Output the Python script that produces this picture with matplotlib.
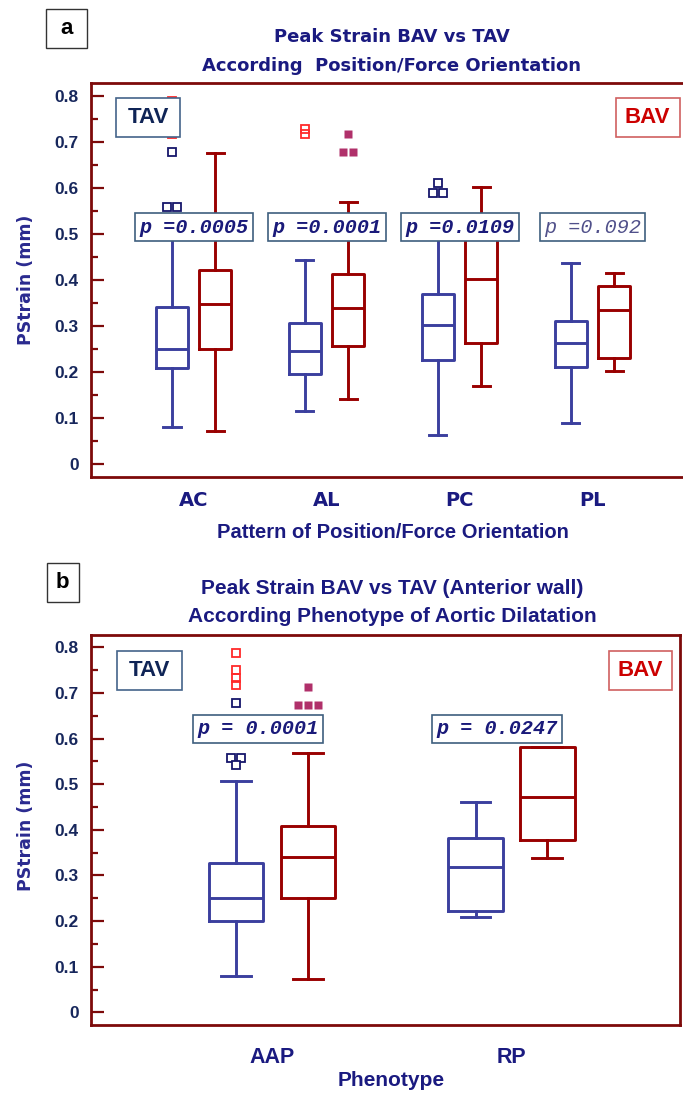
import numpy as np
import matplotlib
matplotlib.use('Agg')
import matplotlib.pyplot as plt
from collections import Counter
from matplotlib import font_manager
from matplotlib.patches import Rectangle
from matplotlib.ticker import MultipleLocator
from matplotlib.transforms import offset_copy

# ---- a: peak strain by position / force orientation ----
orient = ['AC', 'AL', 'PC', 'PL']
tav_a_lo = [0.081, 0.115, 0.063, 0.088]
tav_a_q1 = [0.208, 0.196, 0.225, 0.210]
tav_a_med = [0.250, 0.246, 0.302, 0.264]
tav_a_q3 = [0.342, 0.307, 0.369, 0.310]
tav_a_hi = [0.520, 0.443, 0.520, 0.437]
bav_a_lo = [0.071, 0.141, 0.170, 0.203]
bav_a_q1 = [0.250, 0.257, 0.264, 0.230]
bav_a_med = [0.348, 0.339, 0.402, 0.335]
bav_a_q3 = [0.421, 0.413, 0.500, 0.388]
bav_a_hi = [0.676, 0.570, 0.603, 0.416]
tav_a_far = [[0.789, 0.751, 0.732, 0.718], [0.728, 0.718], [], []]
tav_a_out = [[0.679, 0.559, 0.559], [], [0.611, 0.589, 0.589], []]
bav_a_out = [[], [0.718, 0.679, 0.679], [], []]
p_a = ['p =0.0005', 'p =0.0001', 'p =0.0109', 'p =0.092']

# ---- b: anterior wall, by phenotype of aortic dilatation ----
phenotype = ['AAP', 'RP']
tav_b_lo = [0.080, 0.210]
tav_b_q1 = [0.200, 0.221]
tav_b_med = [0.251, 0.319]
tav_b_q3 = [0.328, 0.383]
tav_b_hi = [0.508, 0.461]
bav_b_lo = [0.072, 0.339]
bav_b_q1 = [0.251, 0.378]
bav_b_med = [0.340, 0.471]
bav_b_q3 = [0.409, 0.581]
bav_b_hi = [0.568, 0.581]
tav_b_far = [[0.787, 0.751, 0.732, 0.718], []]
tav_b_out = [[0.679, 0.558, 0.558, 0.542], []]
bav_b_out = [[0.714, 0.674, 0.674, 0.674], []]
p_b = ['p = 0.0001', 'p = 0.0247']

TAV_C = '#3b3f9e'
BAV_C = '#990000'
SPINE_C = '#7d0a0a'
NAVY = '#1a1a80'
TICK_C = '#17275c'
OUT_NAVY = '#16166b'
OUT_RED = '#ff2a2a'
OUT_PURP = '#b0306a'
PBOX_EC = '#3e5f7e'

names = {f.name for f in font_manager.fontManager.ttflist}
NARROW = 'Liberation Sans Narrow' if 'Liberation Sans Narrow' in names else 'Liberation Sans'
LABEL_F = 'Liberation Sans'

W, H = 683, 1093
fig = plt.figure(figsize=(W / 100, H / 100), dpi=100)


def fx(x):
    return x / W


def fy(y):
    return 1 - y / H


def frame_box(x0, y0, x1, y1, ec, lw=1.2):
    fig.add_artist(Rectangle((fx(x0), fy(y1)), fx(x1) - fx(x0), fy(y0) - fy(y1),
                             transform=fig.transFigure, facecolor='white',
                             edgecolor=ec, lw=lw, zorder=2))


def draw_outliers(ax, groups, xpos, **style):
    # equal values sit side by side
    for x, vals in zip(xpos, groups):
        for v, n in Counter(vals).items():
            for k in range(n):
                tr = offset_copy(ax.transData, fig=fig, x=(k - (n - 1) / 2) * 7.2,
                                 y=0, units='points')
                ax.plot([x], [v], transform=tr, linestyle='none', zorder=3, **style)


def make_panel(rect, xlim, ylim, cats, tav, bav, off, width, capw, xfont, xsize, xpad):
    x0, y0, x1, y1 = rect
    ax = fig.add_axes([fx(x0), fy(y1), fx(x1) - fx(x0), fy(y0) - fy(y1)])
    idx = np.arange(len(cats))
    for (lo, q1, med, q3, hi), color, sign in ((tav, TAV_C, -1), (bav, BAV_C, 1)):
        stats = [dict(whislo=a, q1=b, med=c, q3=d, whishi=e)
                 for a, b, c, d, e in zip(lo, q1, med, q3, hi)]
        line = dict(color=color, linewidth=2.1)
        ax.bxp(stats, positions=idx + sign * off, widths=width, capwidths=capw,
               showfliers=False, boxprops=line, whiskerprops=line, capprops=line,
               medianprops=line, manage_ticks=False)
    ax.set_xlim(*xlim)
    ax.set_ylim(*ylim)
    for s in ax.spines.values():
        s.set_color(SPINE_C)
        s.set_linewidth(2)
    yt = np.arange(0, 0.81, 0.1)
    ax.set_yticks(yt)
    ax.set_yticklabels(['0' if t == 0 else f'{t:.1f}' for t in yt], family=LABEL_F,
                       weight='bold', fontsize=12.5, color=TICK_C)
    ax.yaxis.set_minor_locator(MultipleLocator(0.05))
    ax.tick_params(axis='y', which='major', direction='in', length=9.5, width=1.6,
                   color=SPINE_C, pad=9)
    ax.tick_params(axis='y', which='minor', direction='in', length=5, width=1.6,
                   color=SPINE_C)
    ax.set_xticks(idx)
    ax.set_xticklabels(cats, family=xfont, weight='bold', fontsize=xsize, color=NAVY)
    ax.tick_params(axis='x', length=0, pad=xpad)
    return ax, idx


def p_boxes(ax, xs, y, labels, size):
    for x, s in zip(xs, labels):
        strong = float(s.split('=')[1]) < 0.05
        ax.text(x, y, s, ha='center', va='center', family='Liberation Mono',
                style='italic', weight='bold' if strong else 'normal', fontsize=size,
                color='#1a1a7a' if strong else '#50508a', zorder=6,
                bbox=dict(boxstyle='square,pad=0.22', fc='white', ec=PBOX_EC, lw=1.2))


def group_labels(box_tav, box_bav):
    frame_box(*box_tav, ec='#44648a')
    frame_box(*box_bav, ec='#d06060')
    for (x0, y0, x1, y1), s, c in ((box_tav, 'TAV', '#0f2456'), (box_bav, 'BAV', '#cc0000')):
        fig.text(fx((x0 + x1) / 2), fy((y0 + y1) / 2), s, ha='center', va='center',
                 family=LABEL_F, weight='bold', fontsize=16, color=c, zorder=3)


def panel_letter(box, s):
    frame_box(*box, ec='#333333', lw=1.0)
    x0, y0, x1, y1 = box
    fig.text(fx((x0 + x1) / 2), fy((y0 + y1) / 2), s, ha='center', va='center',
             family='Liberation Sans', weight='bold', fontsize=16, color='black', zorder=3)


# ---------------- panel a ----------------
ax_a, ia = make_panel((91, 83, 690, 476.7), (-0.771, 3.733), (-0.028, 0.829), orient,
                      (tav_a_lo, tav_a_q1, tav_a_med, tav_a_q3, tav_a_hi),
                      (bav_a_lo, bav_a_q1, bav_a_med, bav_a_q3, bav_a_hi),
                      0.162, 0.24, 0.128, 'DejaVu Sans', 14, 10)
draw_outliers(ax_a, tav_a_far, ia - 0.162, marker='s', ms=6.3, mfc='none', mec=OUT_RED, mew=1.3)
draw_outliers(ax_a, tav_a_out, ia - 0.162, marker='s', ms=6.3, mfc='white', mec=OUT_NAVY, mew=1.3)
draw_outliers(ax_a, bav_a_out, ia + 0.162, marker='s', ms=6.3, mfc=OUT_PURP, mec='none')
p_boxes(ax_a, ia, 0.515, p_a, 14.5)
group_labels((115.7, 98.3, 180.3, 137.3), (615.7, 98.3, 679.7, 137.3))
panel_letter((45.7, 9, 87.3, 48), 'a')

fig.text(fx(392), fy(37.5), 'Peak Strain BAV vs TAV', ha='center', va='center',
         family='DejaVu Sans', weight='bold', fontsize=13, color=NAVY)
fig.text(fx(392), fy(66), 'According  Position/Force Orientation', ha='center', va='center',
         family='DejaVu Sans', weight='bold', fontsize=13, color=NAVY)
fig.text(fx(393), fy(532.5), 'Pattern of Position/Force Orientation', ha='center', va='center',
         family=NARROW, weight='bold', fontsize=14.5, color=NAVY)
fig.text(fx(26), fy(280), 'PStrain (mm)', rotation=90, ha='center', va='center',
         family='DejaVu Sans', weight='bold', fontsize=12.5, color='#2a2a8f')

# ---------------- panel b ----------------
ax_b, ib = make_panel((91, 635, 680, 1025), (-0.756, 1.704), (-0.0278, 0.827), phenotype,
                      (tav_b_lo, tav_b_q1, tav_b_med, tav_b_q3, tav_b_hi),
                      (bav_b_lo, bav_b_q1, bav_b_med, bav_b_q3, bav_b_hi),
                      0.150, 0.228, 0.125, NARROW, 15.5, 16)
draw_outliers(ax_b, tav_b_far, ib - 0.150, marker='s', ms=6.3, mfc='none', mec=OUT_RED, mew=1.3)
draw_outliers(ax_b, tav_b_out, ib - 0.150, marker='s', ms=6.3, mfc='white', mec=OUT_NAVY, mew=1.3)
draw_outliers(ax_b, bav_b_out, ib + 0.150, marker='s', ms=6.3, mfc=OUT_PURP, mec='none')
p_boxes(ax_b, ib - 0.06, 0.621, p_b, 14.5)
group_labels((117.3, 651, 181.7, 690), (609, 651, 671.7, 690))
panel_letter((47, 563, 78.5, 602), 'b')

fig.text(fx(392), fy(589), 'Peak Strain BAV vs TAV (Anterior wall)', ha='center', va='center',
         family=NARROW, weight='bold', fontsize=15, color=NAVY)
fig.text(fx(392), fy(617), 'According Phenotype of Aortic Dilatation', ha='center', va='center',
         family=NARROW, weight='bold', fontsize=15, color=NAVY)
fig.text(fx(391), fy(1080), 'Phenotype', ha='center', va='center',
         family=NARROW, weight='bold', fontsize=15, color=NAVY)
fig.text(fx(26), fy(826), 'PStrain (mm)', rotation=90, ha='center', va='center',
         family='DejaVu Sans', weight='bold', fontsize=12.5, color='#2a2a8f')

fig.savefig('out.png', dpi=100, facecolor='white')
